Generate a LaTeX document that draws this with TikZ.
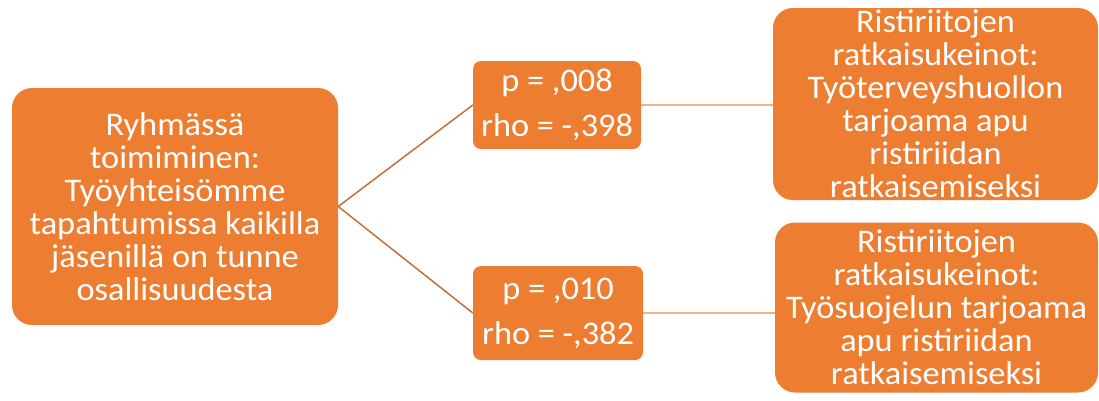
\documentclass[tikz,border=0pt]{standalone}
\usepackage{fontspec}
\setmainfont[FakeStretch=1.04]{Carlito}
\definecolor{boxorange}{HTML}{ED7D31}
\definecolor{linkdark}{HTML}{C0703A}
\definecolor{linklight}{HTML}{F4B183}
\begin{document}
\begin{tikzpicture}[x=1pt,y=-1pt,
  box/.style={fill=boxorange,draw=none,rounded corners=#1,text=white,align=center,inner sep=0pt},
  bigtext/.style={font=\fontsize{33}{33}\selectfont},
  stattext/.style={font=\fontsize{33}{45}\selectfont},
  darklink/.style={draw=linkdark,line width=1.5pt},
  lightlink/.style={draw=linklight,line width=1.5pt}]
\useasboundingbox (0,0) rectangle (1099,400);
% root statement
\node[box=20pt,bigtext,minimum width=326pt,minimum height=237pt] (root) at (175,206.5)
  {Ryhmässä\\toimiminen:\\Työyhteisömme\\tapahtumissa kaikilla\\jäsenillä on tunne\\osallisuudesta};
% correlation figures
\node[box=8pt,stattext,minimum width=168pt,minimum height=88pt] (s1) at (557,105)
  {p = ,008\\rho = -,398};
\node[box=8pt,stattext,minimum width=170pt,minimum height=94pt] (s2) at (558,313)
  {p = ,010\\rho = -,382};
% conflict resolution means
\node[box=20pt,bigtext,minimum width=325pt,minimum height=192pt] (r1) at (935.5,104)
  {Ristiriitojen\\ratkaisukeinot:\\Työterveyshuollon\\tarjoama apu\\ristiriidan\\ratkaisemiseksi};
\node[box=20pt,bigtext,minimum width=323pt,minimum height=170pt] (r2) at (936.5,307.5)
  {Ristiriitojen\\ratkaisukeinot:\\Työsuojelun tarjoama\\apu ristiriidan\\ratkaisemiseksi};
% connectors
\draw[darklink] (root.east) -- (s1.west);
\draw[darklink] (root.east) -- (s2.west);
\draw[lightlink] (s1.east) -- (s1.east -| r1.west);
\draw[lightlink] (s2.east) -- (s2.east -| r2.west);
\end{tikzpicture}
\end{document}
